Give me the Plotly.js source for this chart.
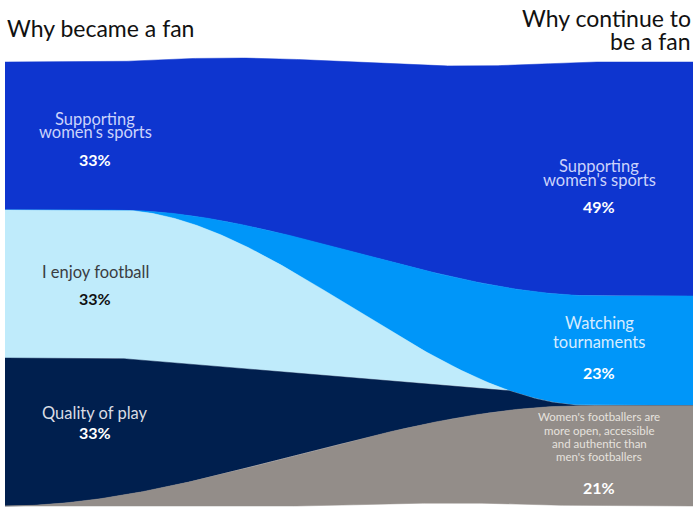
<!DOCTYPE html>
<html><head><meta charset="utf-8">
<script src="https://cdn.plot.ly/plotly-3.0.1.min.js"></script>
<style>html,body{margin:0;padding:0;background:#fff}</style>
</head><body><div id="chart" style="width:693px;height:507px"></div>
<script>
// ---------- data ----------
const leftTitle = "Why became a fan";
const rightTitle = ["Why continue to", "be a fan"];
const leftCategories = ["Supporting women's sports", "I enjoy football", "Quality of play"];
const leftValues = [33, 33, 33];
const rightCategories = ["Supporting women's sports", "Watching tournaments",
  "Women's footballers are more open, accessible and authentic than men's footballers"];
const rightValues = [49, 23, 21];
const leftLabelLines = [["Supporting", "women's sports"], ["I enjoy football"], ["Quality of play"]];
const rightLabelLines = [["Supporting", "women's sports"], ["Watching", "tournaments"],
  ["Women's footballers are", "more open, accessible", "and authentic than", "men's footballers"]];

// ---------- geometry helpers (layout only) ----------
const W = 688, PX0 = 5;            // plot width in px, left offset
const UNIT = 4.44;                 // px per share unit (444px / 100)
const sumL = leftValues.reduce((a, b) => a + b, 0);
const sumR = rightValues.reduce((a, b) => a + b, 0);
const L = leftValues.map(v => v / sumL * 100);
const R = rightValues.map(v => v / sumR * 100);
const sm = t => t <= 0 ? 0 : t >= 1 ? 1 : t * t * (3 - 2 * t);
const ease = (a, b, x) => sm((x - a) / (b - a));
const fx = px => (px - PX0) / W;

const T1 = [fx(115), fx(600)], T2 = [fx(115), fx(590)], T4 = [fx(5), fx(583)], T3end = fx(507);
const B1 = x => L[0] + (R[0] - L[0]) * ease(T1[0], T1[1], x);
const B2 = x => L[0] + (R[0] + R[1] - L[0]) * ease(T2[0], T2[1], x);
const B4 = x => 100 + (R[0] + R[1] - 100) * ease(T4[0], T4[1], x);
const B3 = x => {
  let v;
  if (x <= T2[0]) v = L[0] + L[1];
  else if (x >= T3end) v = B2(x);
  else { const t = (x - T2[0]) / (T3end - T2[0]); v = (L[0] + L[1]) * (1 - t) + B2(T3end) * t; }
  return Math.min(Math.max(v, B2(x)), B4(x));
};
// decorative wavy top/bottom edges (px)
const topWave = x => { const px = PX0 + x * W; if (px < 113 || px > 583) return 0; return 4 * Math.sin(2 * Math.PI * (px - 113) / 470); };
const botWave = x => { const px = PX0 + x * W; if (px < 320 || px > 583) return 0; return 3 * Math.sin(Math.PI * (px - 320) / 263); };

const N = 300;
const xs = Array.from({length: N + 1}, (_, i) => i / N);
const toY = s => 100 - s;
const topEdge = x => 100 + topWave(x) / UNIT;
const botEdge = x => 0 + botWave(x) / UNIT;

const bands = [
  {upper: topEdge, lower: x => toY(B1(x)), color: '#0e35cf'},
  {upper: x => toY(B1(x)), lower: x => toY(B2(x)), color: '#0096f9'},
  {upper: x => toY(B2(x)), lower: x => toY(B3(x)), color: '#bfebfb'},
  {upper: x => toY(B3(x)), lower: x => toY(B4(x)), color: '#001f4e'},
  {upper: x => toY(B4(x)), lower: botEdge, color: '#938d89'}
];
const traces = bands.map(b => {
  const X = xs.concat(xs.slice().reverse());
  const Y = xs.map(b.upper).concat(xs.slice().reverse().map(b.lower));
  return {type: 'scatter', mode: 'lines', x: X, y: Y, fill: 'toself', fillcolor: b.color,
    line: {width: 0.5, color: b.color}, hoverinfo: 'skip'};
});

// ---------- labels ----------
const FONT = 'Lato, "Open Sans", sans-serif';
const ann = [];
function lab(x, y, shiftPx, text, size, color, bold) {
  ann.push({xref: 'x', yref: 'y', x: x, y: y, yshift: -shiftPx, text: text, showarrow: false,
    xanchor: 'center', yanchor: 'middle',
    font: {family: FONT, size: size, color: color, weight: bold ? 700 : 400}});
}
const xl = fx(95), xr = fx(599);
const leftCenters = [L[0] / 2, L[0] + L[1] / 2, L[0] + L[1] + L[2] / 2].map(toY);
const rightCenters = [R[0] / 2, R[0] + R[1] / 2, R[0] + R[1] + R[2] / 2].map(toY);
const pct = v => v + '%';
// left
lab(xl, leftCenters[0], -17, leftLabelLines[0][0], 16.5, '#cbd3fb');
lab(xl, leftCenters[0], -4, leftLabelLines[0][1], 16.5, '#cbd3fb');
lab(xl, leftCenters[0], 23, pct(leftValues[0]), 16, '#ffffff', true);
lab(xl, leftCenters[1], -12, leftLabelLines[1][0], 16.5, '#3a3d42');
lab(xl, leftCenters[1], 14, pct(leftValues[1]), 16, '#111111', true);
lab(xl, leftCenters[2], -19, leftLabelLines[2][0], 16.5, '#d9dce3');
lab(xl, leftCenters[2], 0, pct(leftValues[2]), 16, '#ffffff', true);
// right
lab(xr, rightCenters[0], -13, rightLabelLines[0][0], 16.5, '#cbd3fb');
lab(xr, rightCenters[0], 1, rightLabelLines[0][1], 16.5, '#cbd3fb');
lab(xr, rightCenters[0], 28, pct(rightValues[0]), 16, '#ffffff', true);
lab(xr, rightCenters[1], -28, rightLabelLines[1][0], 16.5, '#d6ecff');
lab(xr, rightCenters[1], -9, rightLabelLines[1][1], 16.5, '#d6ecff');
lab(xr, rightCenters[1], 22, pct(rightValues[1]), 16, '#ffffff', true);
[-39, -25, -12, 1].forEach((o, i) => lab(xr, rightCenters[2], o, rightLabelLines[2][i], 11.5, '#e6e2de'));
lab(xr, rightCenters[2], 32, pct(rightValues[2]), 16, '#ffffff', true);
// titles
const pyToPaper = py => (507 - py) / 452;
ann.push({xref: 'paper', yref: 'paper', x: 0, y: pyToPaper(28), xanchor: 'left', yanchor: 'middle', showarrow: false,
  text: leftTitle, font: {family: FONT, size: 23, color: '#111111'}});
ann.push({xref: 'paper', yref: 'paper', x: 1, y: pyToPaper(18), xanchor: 'right', yanchor: 'middle', showarrow: false,
  text: rightTitle[0], font: {family: FONT, size: 23, color: '#111111'}});
ann.push({xref: 'paper', yref: 'paper', x: 1, y: pyToPaper(41), xanchor: 'right', yanchor: 'middle', showarrow: false,
  text: rightTitle[1], font: {family: FONT, size: 23, color: '#111111'}});

const layout = {
  width: 693, height: 507,
  margin: {l: PX0, r: 0, t: 55, b: 0},
  paper_bgcolor: '#ffffff', plot_bgcolor: '#ffffff',
  showlegend: false,
  xaxis: {range: [0, 1], visible: false, fixedrange: true},
  yaxis: {range: [-1 / UNIT, 100 + 7 / UNIT], visible: false, fixedrange: true},
  annotations: ann
};
Plotly.newPlot('chart', traces, layout, {staticPlot: true, displayModeBar: false});
</script>
</body></html>
